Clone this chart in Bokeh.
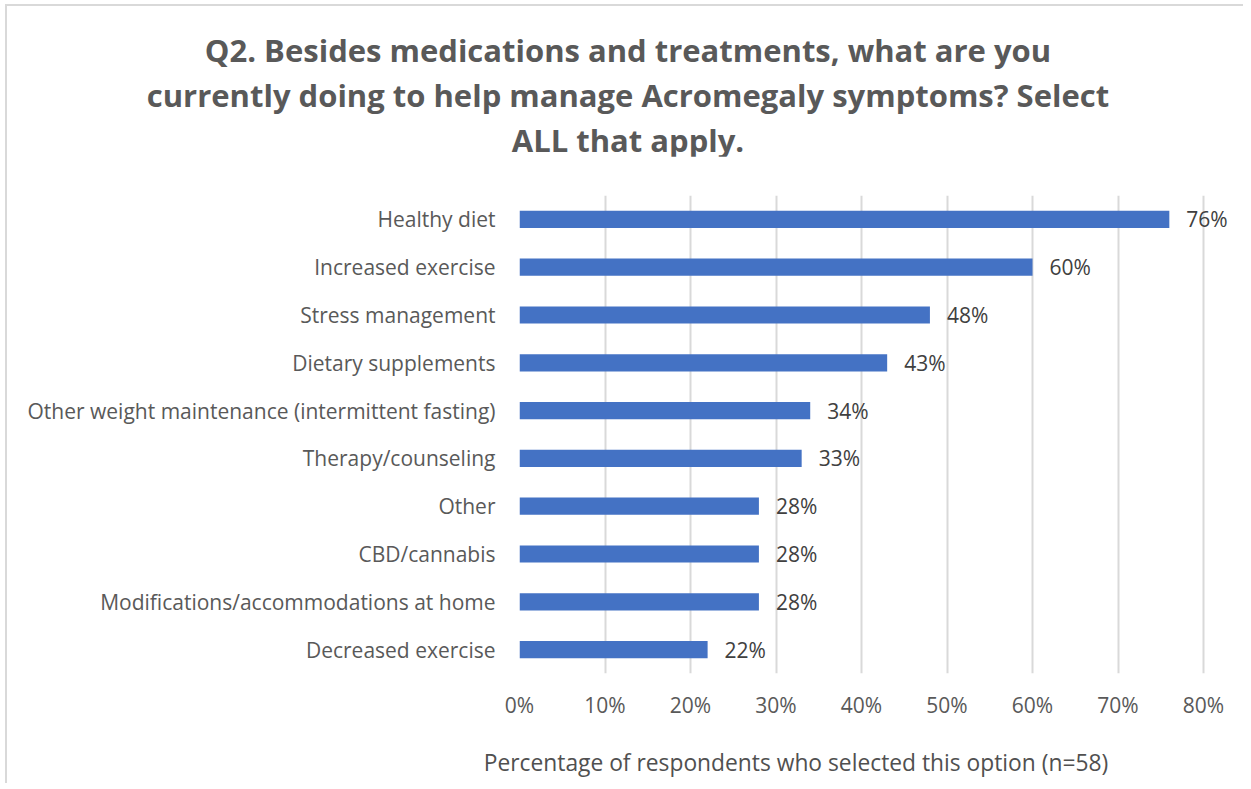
from bokeh.plotting import figure
from bokeh.layouts import column
from bokeh.models import FactorRange, Range1d, FixedTicker, PrintfTickFormatter, ColumnDataSource, Div
from bokeh.core.properties import value
from bokeh.embed import file_html
from bokeh.resources import INLINE

categories = [
    "Healthy diet",
    "Increased exercise",
    "Stress management",
    "Dietary supplements",
    "Other weight maintenance (intermittent fasting)",
    "Therapy/counseling",
    "Other",
    "CBD/cannabis",
    "Modifications/accommodations at home",
    "Decreased exercise",
]
values = [76, 60, 48, 43, 34, 33, 28, 28, 28, 22]
value_labels = [f"{v}%" for v in values]
x_ticks = [0, 10, 20, 30, 40, 50, 60, 70, 80]
title_lines = [
    "Q2. Besides medications and treatments, what are you",
    "currently doing to help manage Acromegaly symptoms? Select",
    "ALL that apply.",
]
x_title = "Percentage of respondents who selected this option (n=58)"

FONT = "Open Sans"
W = 1236
TITLE_H = 150
MAIN_H = 577
FOOT_H = 50


def text_block(lines, h, cx, tops, size, weight, color):
    parts = []
    for line, cy in zip(lines, tops):
        parts.append(
            f'<div style="position:absolute;left:{cx}px;top:{cy}px;'
            f'transform:translate(-50%,-50%);white-space:nowrap;'
            f'font-family:\'{FONT}\';font-size:{size};font-weight:{weight};'
            f'color:{color};line-height:1;">{line}</div>'
        )
    html = f'<div style="position:relative;width:{W}px;height:{h}px;">' + "".join(parts) + "</div>"
    return Div(text=html, width=W, height=h, margin=0)


# ---- title block ----
title_div = text_block(title_lines, TITLE_H, 621, [44, 89, 134], "31px", "bold", "#595959")

# ---- main chart ----
p = figure(
    width=W, height=MAIN_H,
    y_range=FactorRange(factors=categories[::-1], range_padding=0),
    x_range=Range1d(0, 84.44),
    output_backend="svg", toolbar_location=None,
    min_border_left=512, min_border_right=2,
    min_border_top=39, min_border_bottom=60,
)
p.outline_line_color = None

src = ColumnDataSource(dict(cat=categories, val=values, lab=value_labels))
p.hbar(y="cat", right="val", height=0.36, source=src, color="#4472C4", line_color=None)
p.text(x="val", y="cat", text="lab", source=src, x_offset=17,
       text_baseline="middle", text_align="left",
       text_font=value(FONT), text_font_size="21px", text_color="#404040")

p.xaxis.ticker = FixedTicker(ticks=x_ticks)
p.xaxis.formatter = PrintfTickFormatter(format="%d%%")
for ax in (p.xaxis, p.yaxis):
    ax.axis_line_color = None
    ax.major_tick_line_color = None
    ax.minor_tick_line_color = None
    ax.major_tick_in = 0
    ax.major_tick_out = 0
    ax.major_label_text_font = FONT
    ax.major_label_text_font_size = "21px"
    ax.major_label_text_color = "#595959"
p.yaxis.major_label_standoff = 24
p.xaxis.major_label_standoff = 17

p.xgrid.grid_line_color = "#D9D9D9"
p.xgrid.grid_line_width = 2
p.ygrid.grid_line_color = None

# ---- axis title block ----
foot_div = text_block([x_title], FOOT_H, 789, [30], "22.8px", "normal", "#505050")

layout = column(title_div, p, foot_div, spacing=0,
                styles={"margin-left": "5px", "margin-top": "4px",
                        "border-left": "2px solid #d9d9d9",
                        "border-top": "2px solid #d9d9d9"})

open("out.html", "w").write(file_html(layout, INLINE))
